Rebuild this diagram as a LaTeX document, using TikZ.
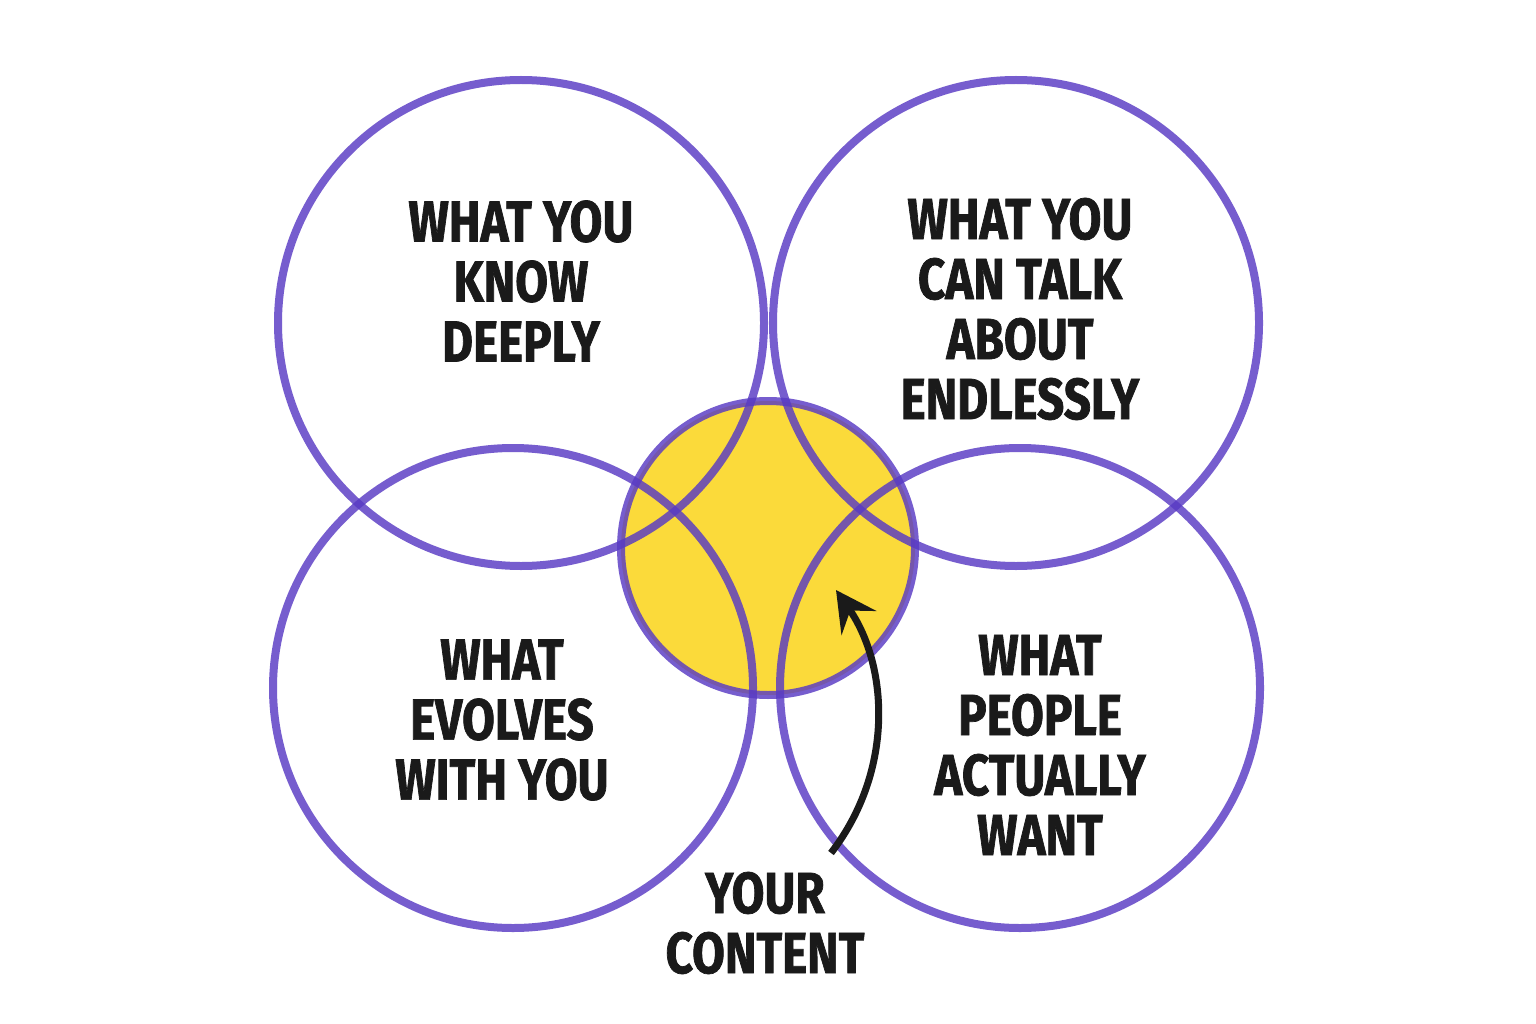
\documentclass[tikz,border=0pt]{standalone}
\usepackage{fontspec}
\setmainfont{Fira Sans}[FakeStretch=0.82, BoldFeatures={FakeBold=1.2}]
\usepackage{tikz}
\usetikzlibrary{positioning, calc, arrows.meta}

\definecolor{ringc}{RGB}{88,58,196}
\definecolor{sunc}{RGB}{251,218,58}
\definecolor{inkc}{RGB}{26,26,26}

\tikzset{
  ring/.style={circle, draw=ringc, draw opacity=0.82, line width=8pt, inner sep=0pt},
  label/.style={align=center, inner sep=0pt, text=inkc, font=\bfseries\fontsize{58}{60}\selectfont},
  pointer/.style={draw=inkc, line width=7pt, -{Stealth[length=40pt,width=42pt,inset=15pt]}}
}

\begin{document}
\begin{tikzpicture}[x=1pt, y=-1pt]
                \useasboundingbox[fill=white] (0,0) rectangle (1536,1024);
                % yellow middle first, the rings go over it
                \fill[sunc] (768,548) circle (147pt);
                \node[ring, minimum size=486pt] (know) at (521,323) {};
                \node[ring, minimum size=486pt] (talk) at (1016,323) {};
                \node[ring, minimum size=480pt] (evolve) at (513,688) {};
                \node[ring, minimum size=480pt] (want) at (1020,688) {};
                \node[ring, minimum size=294pt] (content) at (768,548) {};
                % texts
                \node[label] (knowtxt) at (521,281) {WHAT YOU\\KNOW\\DEEPLY};
                \node[label] (talktxt) at (1020,309) {WHAT YOU\\CAN TALK\\ABOUT\\ENDLESSLY};
                \node[label] (evolvetxt) at (502,720) {WHAT\\EVOLVES\\WITH YOU};
                \node[label] (wanttxt) at (1040,745) {WHAT\\PEOPLE\\ACTUALLY\\WANT};
                \node[label] (yourtxt) at (765,923) {YOUR\\CONTENT};
                % arrow into the middle
                \coordinate (tail) at (831,853);
                \coordinate (tip) at (836,590);
                \draw[pointer] (tail) .. controls (895,770) and (888,665) .. (tip);
\end{tikzpicture}
\end{document}
